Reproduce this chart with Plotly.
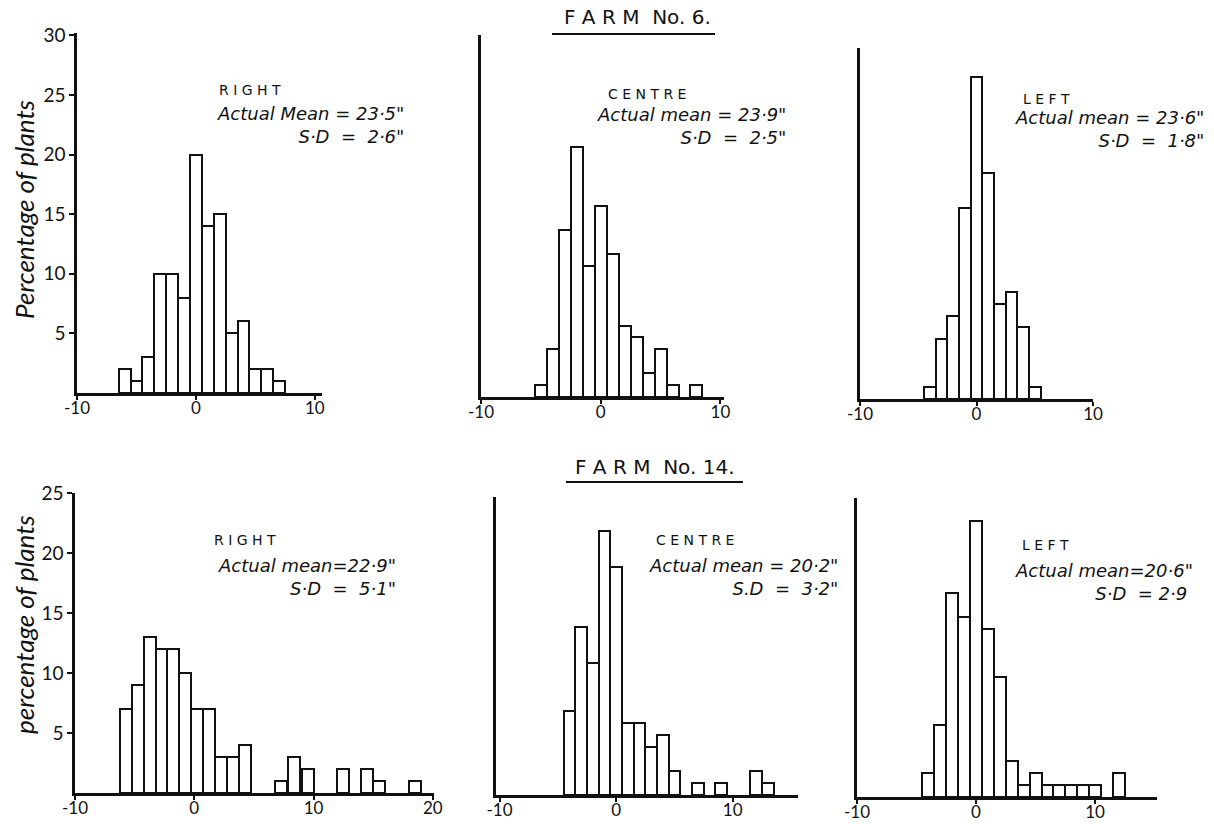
import plotly.graph_objects as go

W, H = 1214, 824

# Percentage of plants per 1-inch class (deviation from the actual mean, inches)
farm6_right_x = [-6, -5, -4, -3, -2, -1, 0, 1, 2, 3, 4, 5, 6, 7]
farm6_right_y = [2, 1, 3, 10, 10, 8, 20, 14, 15, 5, 6, 2, 2, 1]

farm6_centre_x = [-5, -4, -3, -2, -1, 0, 1, 2, 3, 4, 5, 6, 8]
farm6_centre_y = [1, 4, 14, 21, 11, 16, 12, 6, 5, 2, 4, 1, 1]

farm6_left_x = [-4, -3, -2, -1, 0, 1, 2, 3, 4, 5]
farm6_left_y = [1, 5, 7, 16, 27, 19, 8, 9, 6, 1]

farm14_right_x = [-5.75, -4.75, -3.75, -2.75, -1.75, -0.75, 0.25, 1.25, 2.25, 3.25, 4.25,
                  7.25, 8.4, 9.5, 12.5, 14.5, 15.5, 18.5]
farm14_right_y = [7, 9, 13, 12, 12, 10, 7, 7, 3, 3, 4, 1, 3, 2, 2, 2, 1, 1]

farm14_centre_x = [-4, -3, -2, -1, 0, 1, 2, 3, 4, 5, 7, 9, 12, 13]
farm14_centre_y = [7, 14, 11, 22, 19, 6, 6, 4, 5, 2, 1, 1, 2, 1]

farm14_left_x = [-4, -3, -2, -1, 0, 1, 2, 3, 4, 5, 6, 7, 8, 9, 10, 12]
farm14_left_y = [2, 6, 17, 15, 23, 14, 10, 3, 1, 2, 1, 1, 1, 1, 1, 2]

x_ticks = [-10, 0, 10]
x_ticks_wide = [-10, 0, 10, 20]
farm6_y_ticks = [5, 10, 15, 20, 25, 30]
farm14_y_ticks = [5, 10, 15, 20, 25]

farm_titles = ["F A R M  No. 6.", "F A R M  No. 14."]
y_title_top = "Percentage of plants"
y_title_bottom = "percentage of plants"

panels = [
    dict(x=farm6_right_x, y=farm6_right_y, px=(77, 322), py=(33, 393),
         xr=[-10, 10.6], yr=[0, 30.2], xt=x_ticks, yt=farm6_y_ticks,
         head="RIGHT", mean='Actual Mean = 23·5"', sd='S·D  =  2·6"',
         hx=217, hy=90, sx=406, sy=125),
    dict(x=farm6_centre_x, y=farm6_centre_y, px=(481, 724), py=(35, 397),
         xr=[-10, 10.3], yr=[0, 30.4], xt=x_ticks, yt=None,
         head="CENTRE", mean='Actual mean = 23·9"', sd='S·D  =  2·5"',
         hx=606, hy=94, sx=788, sy=126),
    dict(x=farm6_left_x, y=farm6_left_y, px=(860, 1093), py=(48, 399),
         xr=[-10, 10], yr=[0, 29.45], xt=x_ticks, yt=None,
         head="LEFT", mean='Actual mean = 23·6"', sd='S·D  =  1·8"',
         hx=1021, hy=99, sx=1206, sy=129),
    dict(x=farm14_right_x, y=farm14_right_y, px=(75, 434), py=(493, 793),
         xr=[-10, 20.1], yr=[0, 25], xt=x_ticks_wide, yt=farm14_y_ticks,
         head="RIGHT", mean='Actual mean=22·9"', sd='S·D  =  5·1"',
         hx=212, hy=540, sx=398, sy=577),
    dict(x=farm14_centre_x, y=farm14_centre_y, px=(496, 798), py=(497, 795),
         xr=[-10.3, 15.6], yr=[0, 24.8], xt=x_ticks, yt=None,
         head="CENTRE", mean='Actual mean = 20·2"', sd='S.D  =  3·2"',
         hx=654, hy=540, sx=840, sy=577),
    dict(x=farm14_left_x, y=farm14_left_y, px=(857, 1157), py=(498, 797),
         xr=[-10, 15.2], yr=[0, 24.9], xt=x_ticks, yt=None,
         head="LEFT", mean='Actual mean=20·6"', sd='S·D  = 2·9 ',
         hx=1020, hy=545, sx=1195, sy=582),
]

LABEL_FONT = "Lato, 'Open Sans', sans-serif"
NOTE_FONT = "'DejaVu Sans', sans-serif"
INK = "#111111"

fig = go.Figure()
layout = dict(
    width=W, height=H, margin=dict(l=0, r=0, t=0, b=0, autoexpand=False),
    paper_bgcolor="white", plot_bgcolor="white", showlegend=False,
    bargap=0,
)
annotations = []
shapes = []

for i, p in enumerate(panels, start=1):
    sfx = "" if i == 1 else str(i)
    fig.add_trace(go.Bar(
        x=p["x"], y=p["y"], width=1,
        marker=dict(color="white", line=dict(color=INK, width=2)),
        xaxis="x" + sfx, yaxis="y" + sfx, hoverinfo="x+y",
    ))
    x0, x1 = p["px"]
    y0, y1 = p["py"]
    layout["xaxis" + sfx] = dict(
        domain=[x0 / W, x1 / W], range=p["xr"], anchor="y" + sfx, automargin=False,
        showgrid=False, zeroline=False, showline=True, linecolor=INK, linewidth=2.5,
        ticks="outside", ticklen=4, tickwidth=2, tickcolor=INK, ticklabelstandoff=-6,
        tickvals=p["xt"], ticktext=[str(v) for v in p["xt"]],
        tickfont=dict(family=LABEL_FONT, size=17, color=INK), fixedrange=True,
    )
    yax = dict(
        domain=[1 - y1 / H, 1 - y0 / H], range=p["yr"], anchor="x" + sfx, automargin=False,
        showgrid=False, zeroline=False, showline=True, linecolor=INK, linewidth=2.5,
        fixedrange=True,
    )
    if p["yt"]:
        yax.update(ticks="outside", ticklen=5, tickwidth=2, tickcolor=INK,
                   tickvals=p["yt"], ticktext=[str(v) for v in p["yt"]],
                   tickfont=dict(family=LABEL_FONT, size=19, color=INK))
    else:
        yax.update(showticklabels=False, ticks="")
    layout["yaxis" + sfx] = yax

    annotations.append(dict(
        x=p["hx"] / W, y=1 - p["hy"] / H, xref="paper", yref="paper",
        xanchor="left", yanchor="middle", showarrow=False,
        text=" ".join(p["head"]), font=dict(family=NOTE_FONT, size=14, color=INK),
    ))
    annotations.append(dict(
        x=p["sx"] / W, y=1 - p["sy"] / H, xref="paper", yref="paper",
        xanchor="right", yanchor="middle", align="right", showarrow=False,
        text="<i>" + p["mean"] + "<br>" + p["sd"] + "</i>",
        font=dict(family=NOTE_FONT, size=18, color=INK),
    ))

# farm headings with underline
for title, cx, cy, ux0, ux1, uy in [
    (farm_titles[0], 637, 17, 552, 715, 34),
    (farm_titles[1], 655, 467, 566, 743, 482),
]:
    annotations.append(dict(
        x=cx / W, y=1 - cy / H, xref="paper", yref="paper",
        xanchor="center", yanchor="middle", showarrow=False,
        text=title, font=dict(family=NOTE_FONT, size=20, color=INK),
    ))
    shapes.append(dict(type="line", xref="paper", yref="paper",
                       x0=ux0 / W, x1=ux1 / W, y0=1 - uy / H, y1=1 - uy / H,
                       line=dict(color=INK, width=2)))

# rotated y-axis titles
for text, cy in [(y_title_top, 210), (y_title_bottom, 625)]:
    annotations.append(dict(
        x=24 / W, y=1 - cy / H, xref="paper", yref="paper",
        xanchor="center", yanchor="middle", showarrow=False, textangle=-90,
        text="<i>" + text + "</i>", font=dict(family=LABEL_FONT, size=26, color=INK),
    ))

layout["annotations"] = annotations
layout["shapes"] = shapes
fig.update_layout(**layout)

fig.write_html("out.html", config={"displayModeBar": False})
